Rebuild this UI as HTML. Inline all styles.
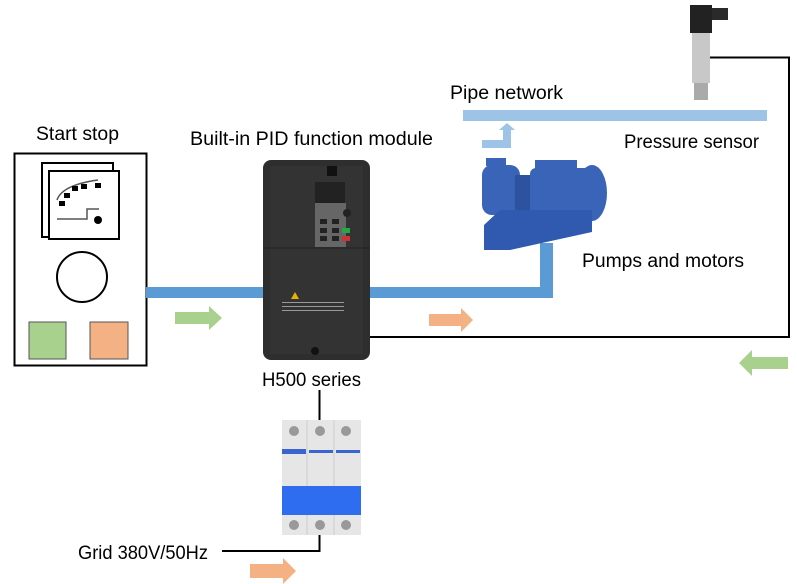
<!DOCTYPE html>
<html><head><meta charset="utf-8"><style>
body{margin:0;background:#fff}
svg{display:block;font-family:"Liberation Sans",sans-serif}
</style></head><body>
<svg width="797" height="584" viewBox="0 0 797 584" xmlns="http://www.w3.org/2000/svg">
<rect width="797" height="584" fill="#fff"/>
<rect x="14.5" y="153.5" width="132" height="212" fill="none" stroke="#000" stroke-width="2"/>
<rect x="42" y="163" width="71" height="74" fill="#fff" stroke="#000" stroke-width="2"/>
<rect x="49" y="171" width="70" height="68" fill="#fff" stroke="#000" stroke-width="2"/>
<path d="M57 200 Q62 185 98 180" fill="none" stroke="#555" stroke-width="1.5"/>
<rect x="59" y="201" width="6" height="5"/><rect x="64" y="193" width="6" height="5"/><rect x="72" y="186" width="6" height="5"/><rect x="81" y="184" width="6" height="5"/><rect x="95" y="183" width="6" height="5"/>
<path d="M57 219 H87 V209 H99" fill="none" stroke="#555" stroke-width="1.5"/>
<circle cx="98" cy="220" r="4"/>
<circle cx="82" cy="277" r="25" fill="none" stroke="#000" stroke-width="2"/>
<rect x="29" y="322" width="37" height="37" fill="#a9d18e" stroke="#555"/>
<rect x="90" y="322" width="38" height="37" fill="#f4b183" stroke="#555"/>
<rect x="146" y="287" width="117" height="11" fill="#5b9bd5"/>
<rect x="370" y="287" width="183" height="11" fill="#5b9bd5"/>
<rect x="540" y="243" width="13" height="55" fill="#5b9bd5"/>
<rect x="463" y="110" width="304" height="11" fill="#9dc3e6"/>
<path d="M482 140 H503 V130 H499 L507 123 L515 130 H511 V148 H482 Z" fill="#9dc3e6"/>
<path d="M175 312 H209 V306 L222 318 L209 330 V324 H175 Z" fill="#a9d18e"/>
<path d="M429 314 H461 V308 L473 320 L461 332 V326 H429 Z" fill="#f4b183"/>
<path d="M788 357 H752 V350 L739 363 L752 376 V369 H788 Z" fill="#a9d18e"/>
<path d="M250 564 H283 V558 L296 571 L283 584 V578 H250 Z" fill="#f4b183"/>
<rect x="263" y="160" width="107" height="200" rx="8" fill="#2e2e2e"/>
<rect x="270" y="166" width="93" height="188" fill="#333"/>
<line x1="263" y1="248" x2="370" y2="248" stroke="#222"/>
<rect x="315" y="182" width="30" height="25" fill="#222"/>
<rect x="327" y="166" width="10" height="10" fill="#111"/>
<rect x="315" y="203" width="31" height="44" fill="#666"/>
<circle cx="347" cy="213" r="4" fill="#222"/>
<rect x="320" y="219" width="7" height="5" fill="#222"/><rect x="332" y="219" width="7" height="5" fill="#222"/>
<rect x="320" y="228" width="7" height="5" fill="#222"/><rect x="332" y="228" width="7" height="5" fill="#222"/><rect x="342" y="228" width="8" height="5" fill="#2a4"/>
<rect x="320" y="236" width="7" height="5" fill="#222"/><rect x="332" y="236" width="7" height="5" fill="#222"/><rect x="342" y="236" width="8" height="5" fill="#c33"/>
<path d="M295 292 L299 299 H291 Z" fill="#e8b000"/>
<rect x="282" y="302" width="62" height="1" fill="#999"/><rect x="282" y="306" width="62" height="1" fill="#999"/><rect x="282" y="310" width="62" height="1" fill="#999"/>
<circle cx="315" cy="351" r="4" fill="#111"/>
<rect x="690" y="5" width="22" height="28" fill="#222"/>
<rect x="712" y="8" width="16" height="12" fill="#2a2a2a"/>
<rect x="692" y="33" width="18" height="50" fill="#c8c8c8"/>
<rect x="694" y="83" width="14" height="17" fill="#aaa"/>
<path d="M710 57.5 H789 V337 H370" fill="none" stroke="#000" stroke-width="2"/>
<g fill="#3a64b8">
<rect x="486" y="158" width="20" height="8"/>
<rect x="482" y="165" width="38" height="50" rx="10"/>
<rect x="515" y="175" width="20" height="40" fill="#2d52a0"/>
<rect x="535" y="160" width="42" height="10"/>
<rect x="530" y="168" width="62" height="50" rx="6"/>
<ellipse cx="592" cy="193" rx="15" ry="28"/>
<path d="M484 225 L500 210 H592 V232 L510 250 H484 Z" fill="#2f5ab0"/>
</g>
<rect x="282" y="420" width="79" height="115" fill="#e6e6e6"/>
<line x1="307" y1="420" x2="307" y2="535" stroke="#ccc"/><line x1="334" y1="420" x2="334" y2="535" stroke="#ccc"/>
<circle cx="294" cy="431" r="5" fill="#999"/><circle cx="320" cy="431" r="5" fill="#999"/><circle cx="346" cy="431" r="5" fill="#999"/>
<circle cx="294" cy="525" r="5" fill="#999"/><circle cx="320" cy="525" r="5" fill="#999"/><circle cx="346" cy="525" r="5" fill="#999"/>
<rect x="282" y="449" width="24" height="5" fill="#3a64d0"/><rect x="309" y="450" width="24" height="3" fill="#3a64d0"/><rect x="336" y="450" width="24" height="3" fill="#3a64d0"/>
<rect x="282" y="486" width="79" height="29" fill="#2f6df0"/>
<path d="M319.5 390 V420 M319.5 535 V551 H222" fill="none" stroke="#000" stroke-width="2"/>
<g font-size="19" fill="#000" lengthAdjust="spacingAndGlyphs">
<text x="36" y="140" textLength="83" lengthAdjust="spacingAndGlyphs">Start stop</text>
<text x="190" y="145" textLength="243" lengthAdjust="spacingAndGlyphs">Built-in PID function module</text>
<text x="262" y="386" textLength="99" lengthAdjust="spacingAndGlyphs">H500 series</text>
<text x="78" y="559" textLength="130" lengthAdjust="spacingAndGlyphs">Grid 380V/50Hz</text>
<text x="450" y="99" textLength="113" lengthAdjust="spacingAndGlyphs">Pipe network</text>
<text x="624" y="148" textLength="135" lengthAdjust="spacingAndGlyphs">Pressure sensor</text>
<text x="582" y="267" textLength="162" lengthAdjust="spacingAndGlyphs">Pumps and motors</text>
</g>
</svg>
</body></html>
